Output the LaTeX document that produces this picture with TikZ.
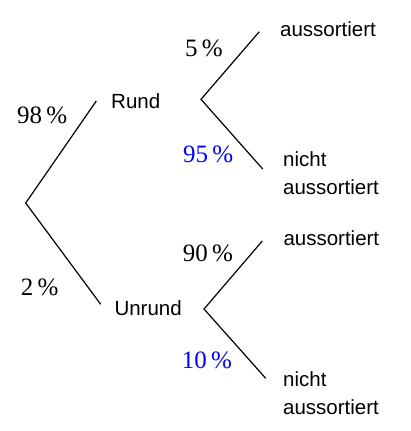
\documentclass[tikz,border=0pt]{standalone}
\usepackage{fontspec}
\setmainfont{Liberation Serif}
\newfontfamily\lsans{Liberation Sans}
\definecolor{pblue}{RGB}{0,0,255}
\tikzset{
  branch/.style={line width=1.2pt},
  sanslbl/.style={anchor=base west, inner sep=0pt, font=\lsans\fontsize{20.5}{28}\selectfont, align=left},
  pct/.style={anchor=base west, inner sep=0pt, font=\fontsize{25}{30}\selectfont},
  pctblue/.style={pct, text=pblue}
}
\begin{document}
\begin{tikzpicture}[x=1pt,y=-1pt]
\useasboundingbox (0,0) rectangle (411,431);
% branch points
\coordinate (root) at (25.7,203);
\coordinate (rundEnd) at (96.3,101);
\coordinate (unrundEnd) at (100.7,304.3);
\coordinate (rundV) at (201,99.3);
\coordinate (rundA) at (259.3,31.7);
\coordinate (rundN) at (262.7,169);
\coordinate (unrundV) at (204,309);
\coordinate (unrundA) at (262.3,241);
\coordinate (unrundN) at (265.7,378.3);
% connectors
\draw[branch] (rundEnd) -- (root) -- (unrundEnd);
\draw[branch] (rundA) -- (rundV) -- (rundN);
\draw[branch] (unrundA) -- (unrundV) -- (unrundN);
% labels
\node[sanslbl] (rund) at (111,108) {Rund};
\node[sanslbl] (unrund) at (114.3,315) {Unrund};
\node[sanslbl] (a1) at (280,36) {aussortiert};
\node[sanslbl] (n1) at (283,194) {nicht\\aussortiert};
\node[sanslbl] (a2) at (283.3,245) {aussortiert};
\node[sanslbl] (n2) at (283,414) {nicht\\aussortiert};
\node[pct] (p98) at (17,123) {98\,\%};
\node[pct] (p2) at (20.7,295) {2\,\%};
\node[pct] (p5) at (185,56.7) {5\,\%};
\node[pctblue] (p95) at (183,162) {95\,\%};
\node[pct] (p90) at (182.7,261) {90\,\%};
\node[pctblue] (p10) at (181.7,368) {10\,\%};
\end{tikzpicture}
\end{document}
